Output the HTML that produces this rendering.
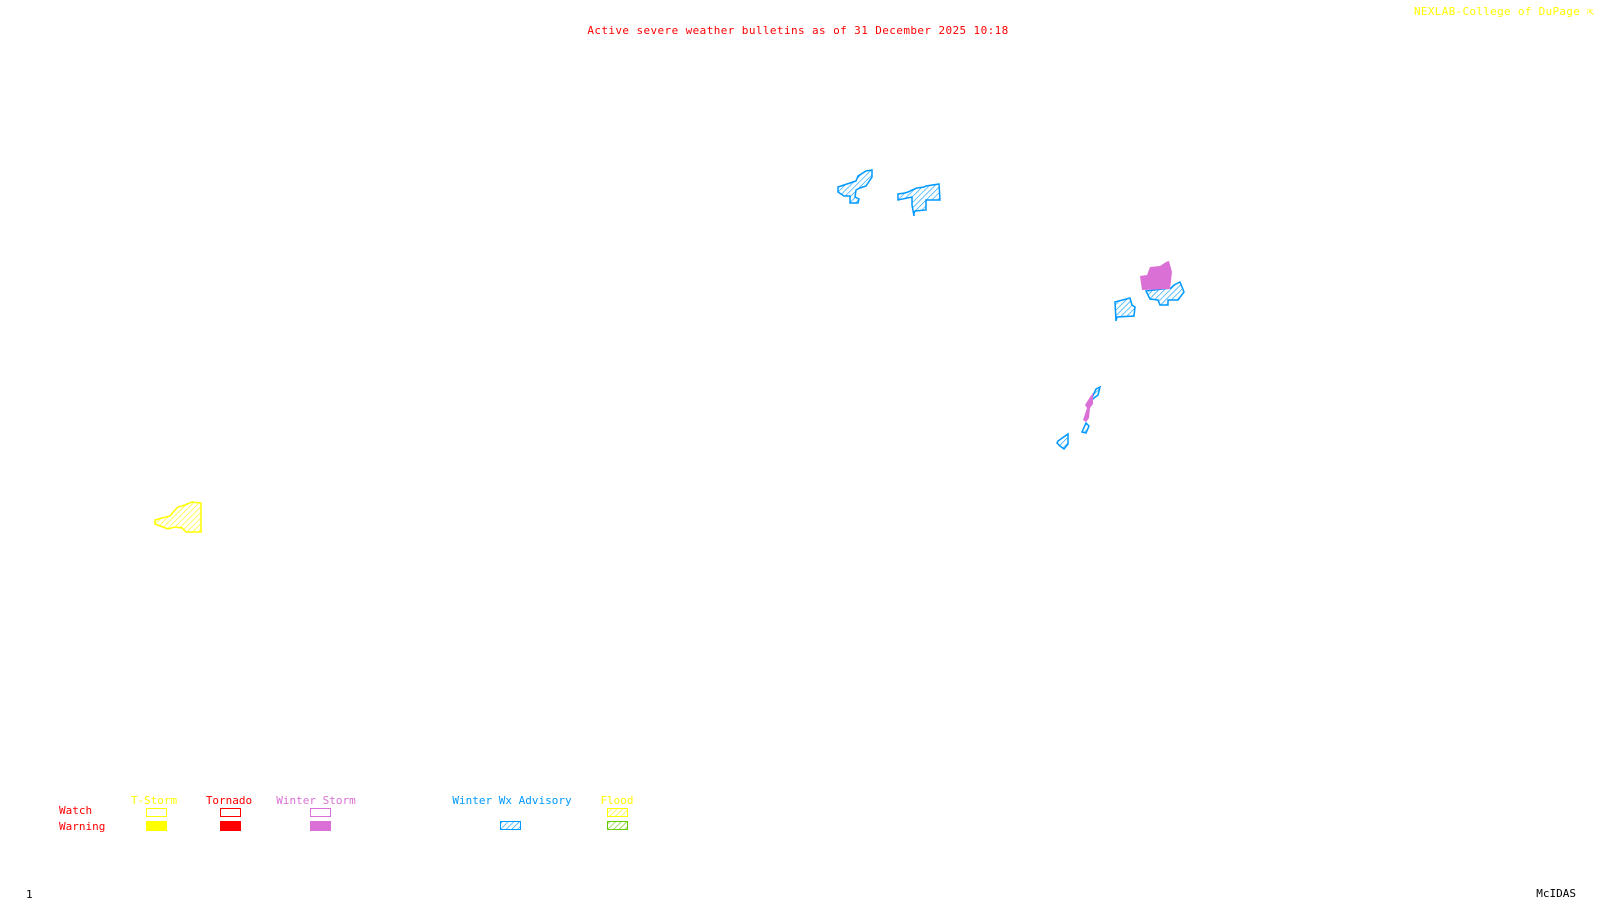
<!DOCTYPE html>
<html><head><meta charset="utf-8"><style>
html,body{margin:0;padding:0;background:#fff;width:1600px;height:900px;overflow:hidden}
svg{display:block}
text{font-family:"DejaVu Sans Mono","Liberation Mono",monospace;font-size:11px}
</style></head><body>
<svg width="1600" height="900" viewBox="0 0 1600 900" xmlns="http://www.w3.org/2000/svg">
<defs>
<pattern id="hb" width="4" height="4" patternUnits="userSpaceOnUse" patternTransform="rotate(45)"><rect width="4" height="4" fill="#fff"/><line x1="0" y1="0" x2="0" y2="4" stroke="#0099ff" stroke-width="1.2"/></pattern>
<pattern id="hy" width="4" height="4" patternUnits="userSpaceOnUse" patternTransform="rotate(45)"><rect width="4" height="4" fill="#fff"/><line x1="0" y1="0" x2="0" y2="4" stroke="#ffff00" stroke-width="1.2"/></pattern>
<pattern id="hg" width="4" height="4" patternUnits="userSpaceOnUse" patternTransform="rotate(45)"><rect width="4" height="4" fill="#fff"/><line x1="0" y1="0" x2="0" y2="4" stroke="#66cc00" stroke-width="1.2"/></pattern>
</defs>
<text x="798" y="34" fill="#ff0000" text-anchor="middle" letter-spacing="0.4">Active severe weather bulletins as of 31 December 2025 10:18</text>
<text x="1594" y="15" fill="#ffff00" text-anchor="end" letter-spacing="0.3">NEXLAB-College of DuPage ⇱</text>

<g stroke="#0099ff" stroke-width="1.5" fill="url(#hb)">
<polygon points="838,187 856,181 858,176 866,171 872,170 872,177 866,186 860,188 856,190 855,197 859,199 858,203 850,203 850,196 844,196 838,192"/>
<polygon points="898,194 905,193 908,192 912,190 917,188 924,187 926,186 939,184 940,200 926,200 926,210 915,211 914,213 914,216 912,205 912,197 898,200"/>
<polygon points="1115,302 1130,298 1132,305 1135,307 1134,316 1117,317 1116,321"/>
<polygon points="1146,291 1171,288 1174,285 1180,282 1184,292 1178,300 1168,300 1168,305 1160,305 1158,300 1150,299"/>
<polygon points="1096,389 1100,387 1098,395 1094,398 1090,402"/>
<polygon points="1086,423 1089,426 1086,433 1082,432"/>
<polygon points="1058,441 1068,434 1068,444 1064,449 1060,446 1057,443"/>
</g>
<g fill="#da70d6">
<polygon points="1140,276 1147,275 1150,267 1160,266 1166,262 1169,261 1172,272 1170,289 1142,290"/>
<polygon points="1090,397 1093,393 1093,404 1090,408 1089,418 1086,422 1083,420 1087,408 1085,405"/>
</g>
<g stroke="#ffff00" stroke-width="1.5" fill="url(#hy)">
<polygon points="155,520 162,518 170,516 175,510 178,507 185,505 192,502 201,503 201,532 186,532 182,528 175,527 168,529 160,526 155,524"/>
</g>

<text x="154" y="804" fill="#ffff00" text-anchor="middle">T-Storm</text>
<text x="229" y="804" fill="#ff0000" text-anchor="middle">Tornado</text>
<text x="316" y="804" fill="#da70d6" text-anchor="middle">Winter Storm</text>
<text x="512" y="804" fill="#0099ff" text-anchor="middle">Winter Wx Advisory</text>
<text x="617" y="804" fill="#ffff00" text-anchor="middle">Flood</text>
<text x="59" y="814" fill="#ff0000">Watch</text>
<text x="59" y="830" fill="#ff0000">Warning</text>

<rect x="146.5" y="808.5" width="20" height="8" fill="none" stroke="#ffff00"/>
<rect x="220.5" y="808.5" width="20" height="8" fill="none" stroke="#ff0000"/>
<rect x="310.5" y="808.5" width="20" height="8" fill="none" stroke="#da70d6"/>
<rect x="607.5" y="808.5" width="20" height="8" fill="url(#hy)" stroke="#ffff00"/>
<rect x="146" y="821" width="21" height="10" fill="#ffff00"/>
<rect x="220" y="821" width="21" height="10" fill="#ff0000"/>
<rect x="310" y="821" width="21" height="10" fill="#da70d6"/>
<rect x="500.5" y="821.5" width="20" height="8" fill="url(#hb)" stroke="#0099ff"/>
<rect x="607.5" y="821.5" width="20" height="8" fill="url(#hg)" stroke="#66cc00"/>

<text x="26" y="898" fill="#000">1</text>
<text x="1576" y="897" fill="#000" text-anchor="end">McIDAS</text>
</svg>
</body></html>
